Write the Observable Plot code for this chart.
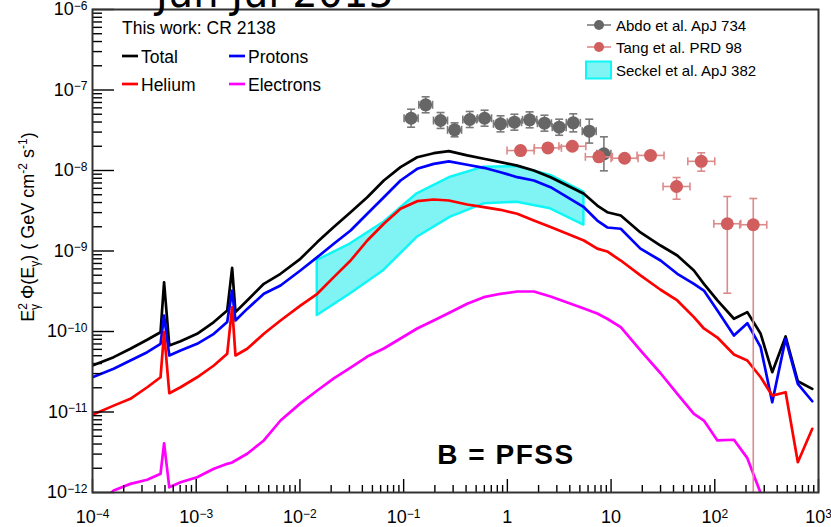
<!DOCTYPE html>
<html>
<head>
<meta charset="utf-8">
<script src="https://cdn.jsdelivr.net/npm/d3@7"></script>
<script src="https://cdn.jsdelivr.net/npm/@observablehq/plot@0.6"></script>
<style>
  html, body { margin: 0; padding: 0; background: #fff; }
  #wrap { position: relative; width: 831px; height: 527px; overflow: hidden; }
</style>
</head>
<body>
<div id="wrap"></div>
<script>
// ---------- model curves (E in GeV, E^2 Phi in GeV cm^-2 s^-1) ----------
const energy = [1e-4, 1.6e-4, 2.32e-4, 3.37e-4, 4.53e-4, 4.9e-4, 5.5e-4, 7.06e-4, 1.02e-3, 1.48e-3,
  1.99e-3, 2.22e-3, 2.39e-3, 3.10e-3, 4.49e-3, 6.50e-3, 1.01e-2, 1.47e-2, 2.12e-2, 3.08e-2,
  4.46e-2, 6.44e-2, 9.33e-2, 0.135, 0.195, 0.273, 0.410, 0.593, 0.859, 1.245,
  1.80, 2.61, 3.78, 5.47, 7.36, 9.18, 12.4, 19.2, 30.0, 43.5,
  62.9, 78.5, 106, 153, 206, 277, 358, 482, 632, 871];
const total = [3.78e-11, 4.80e-11, 6.10e-11, 7.89e-11, 9.80e-11, 4.09e-10, 6.70e-11, 7.58e-11, 9.36e-11, 1.31e-10,
  1.82e-10, 6.18e-10, 1.74e-10, 2.43e-10, 3.91e-10, 5.21e-10, 8.0e-10, 1.29e-9, 1.98e-9, 3.03e-9,
  4.66e-9, 7.51e-9, 1.10e-8, 1.46e-8, 1.64e-8, 1.74e-8, 1.54e-8, 1.40e-8, 1.27e-8, 1.15e-8,
  1.0e-8, 8.26e-9, 6.51e-9, 5.14e-9, 3.67e-9, 3.03e-9, 2.76e-9, 1.70e-9, 1.17e-9, 8.79e-10,
  5.73e-10, 3.91e-10, 2.43e-10, 1.44e-10, 1.74e-10, 9.36e-11, 3.12e-11, 8.67e-11, 2.41e-11, 1.94e-11];
const protons = [2.70e-11, 3.44e-11, 4.36e-11, 5.53e-11, 7.03e-11, 1.58e-10, 5.04e-11, 5.81e-11, 7.03e-11, 9.36e-11,
  1.31e-10, 3.23e-10, 1.37e-10, 1.91e-10, 2.94e-10, 3.73e-10, 5.73e-10, 8.38e-10, 1.23e-9, 1.80e-9,
  2.90e-9, 4.66e-9, 7.51e-9, 1.05e-8, 1.21e-8, 1.30e-8, 1.18e-8, 1.08e-8, 9.53e-9, 8.26e-9,
  7.51e-9, 6.21e-9, 4.66e-9, 3.50e-9, 2.39e-9, 1.96e-9, 1.89e-9, 1.07e-9, 7.62e-10, 5.21e-10,
  3.91e-10, 3.23e-10, 1.82e-10, 8.91e-11, 1.27e-10, 6.38e-11, 1.32e-11, 8.11e-11, 2.24e-11, 1.36e-11];
const helium = [9.23e-12, 1.20e-11, 1.46e-11, 2.03e-11, 2.70e-11, 9.80e-11, 1.71e-11, 2.03e-11, 2.70e-11, 3.78e-11,
  5.28e-11, 2.00e-10, 5.04e-11, 6.10e-11, 9.36e-11, 1.37e-10, 2.10e-10, 2.94e-10, 4.73e-10, 7.62e-10,
  1.35e-9, 2.18e-9, 3.34e-9, 4.16e-9, 4.36e-9, 4.24e-9, 3.78e-9, 3.50e-9, 3.25e-9, 2.90e-9,
  2.39e-9, 1.98e-9, 1.64e-9, 1.35e-9, 1.07e-9, 9.86e-10, 7.62e-10, 4.97e-10, 3.30e-10, 2.43e-10,
  1.51e-10, 1.09e-10, 8.41e-11, 5.18e-11, 4.36e-11, 2.70e-11, 1.60e-11, 1.76e-11, 2.38e-12, 6.18e-12];
const electrons = [6e-13, 1.06e-12, 1.28e-12, 1.44e-12, 1.71e-12, 4.09e-12, 1.16e-12, 1.34e-12, 1.55e-12, 1.97e-12,
  2.27e-12, 2.36e-12, 2.50e-12, 3.03e-12, 4.43e-12, 7.84e-12, 1.28e-11, 1.85e-11, 2.61e-11, 3.57e-11,
  4.89e-11, 6.15e-11, 8.18e-11, 1.09e-10, 1.37e-10, 1.70e-10, 2.21e-10, 2.67e-10, 2.94e-10, 3.14e-10,
  3.14e-10, 2.72e-10, 2.29e-10, 1.93e-10, 1.67e-10, 1.44e-10, 1.13e-10, 5.81e-11, 3.03e-11, 1.68e-11,
  9.5e-12, 7.84e-12, 4.43e-12, 4.52e-12, 2.67e-12, 9.8e-13, 4e-13, null, null, null];

// ---------- Seckel et al. ApJ 382 band ----------
const seckelE  = [0.0147, 0.0308, 0.0644, 0.135, 0.283, 0.593, 1.245, 2.61, 5.47];
const seckelLo = [1.58e-10, 2.94e-10, 5.73e-10, 1.48e-9, 2.63e-9, 3.85e-9, 4.04e-9, 3.34e-9, 2.10e-9];
const seckelHi = [7.62e-10, 1.23e-9, 2.28e-9, 5.14e-9, 8.26e-9, 1.10e-8, 1.12e-8, 8.67e-9, 5.37e-9];

// ---------- Abdo et al. ApJ 734 ----------
const abdoE   = [0.118, 0.163, 0.227, 0.310, 0.434, 0.603, 0.859, 1.17, 1.64, 2.28, 3.16, 4.32, 6.16, 8.53];
const abdoELo = [0.101, 0.140, 0.194, 0.265, 0.372, 0.516, 0.735, 1.00, 1.40, 1.95, 2.71, 3.70, 5.27, 7.30];
const abdoEHi = [0.138, 0.190, 0.265, 0.362, 0.507, 0.704, 1.003, 1.37, 1.92, 2.66, 3.69, 5.05, 7.19, 9.96];
const abdoF   = [4.46e-8, 6.55e-8, 4.18e-8, 3.20e-8, 4.30e-8, 4.46e-8, 3.80e-8, 3.98e-8, 4.26e-8, 3.87e-8, 3.45e-8, 3.91e-8, 3.08e-8, 1.61e-8];
const abdoFLo = [3.45e-8, 5.21e-8, 3.33e-8, 2.62e-8, 3.42e-8, 3.55e-8, 3.02e-8, 3.17e-8, 3.39e-8, 3.08e-8, 2.74e-8, 3.02e-8, 2.19e-8, 0.99e-8];
const abdoFHi = [5.77e-8, 8.23e-8, 5.25e-8, 3.91e-8, 5.41e-8, 5.61e-8, 4.78e-8, 5.00e-8, 5.35e-8, 4.86e-8, 4.34e-8, 5.06e-8, 4.34e-8, 2.62e-8];

// ---------- Tang et al. PRD 98 ----------
const tangE   = [1.34, 2.46, 4.23, 7.62, 13.5, 24.0, 42.8, 74.1, 132, 235];
const tangELo = [0.993, 1.82, 3.14, 5.65, 10.0, 17.8, 31.7, 54.9, 97.9, 174];
const tangEHi = [1.81, 3.32, 5.71, 10.3, 18.2, 32.4, 57.7, 100, 178, 317];
const tangF   = [1.77e-8, 1.91e-8, 2.00e-8, 1.48e-8, 1.42e-8, 1.54e-8, 6.33e-9, 1.30e-8, 2.18e-9, 2.12e-9];
const tangFLo = [1.62e-8, 1.75e-8, 1.83e-8, 1.36e-8, 1.30e-8, 1.41e-8, 4.40e-9, 9.8e-9, 2.99e-10, 1e-13];
const tangFHi = [1.93e-8, 2.08e-8, 2.18e-8, 1.61e-8, 1.55e-8, 1.68e-8, 8.18e-9, 1.66e-8, 4.75e-9, 4.49e-9];

// ---------- axes ----------
const xMajor = [1e-4, 1e-3, 1e-2, 1e-1, 1, 10, 100, 1000];
const yMajor = [1e-12, 1e-11, 1e-10, 1e-9, 1e-8, 1e-7, 1e-6];
const xDomain = [1e-4, 1e3];
const yDomain = [1e-12, 1e-6];

const title = "Jun Jul 2015";
const yTitle = "E²γ Φ(Eγ) ( GeV cm⁻² s⁻¹)";

// ---------- build tables ----------
const curve = (vals) => energy.map((e, i) => ({e, v: vals[i]}));
const band = seckelE.map((e, i) => ({e, lo: seckelLo[i], hi: seckelHi[i]}));
const abdo = abdoE.map((e, i) => ({e, elo: abdoELo[i], ehi: abdoEHi[i], f: abdoF[i], flo: abdoFLo[i], fhi: abdoFHi[i]}));
const tang = tangE.map((e, i) => ({e, elo: tangELo[i], ehi: tangEHi[i], f: tangF[i], flo: tangFLo[i], fhi: tangFHi[i]}));

const isDecade = v => Math.abs(Math.log10(v) - Math.round(Math.log10(v))) < 1e-6;
const xMinor = d3.scaleLog().domain(xDomain).ticks().filter(v => !isDecade(v));
const yMinor = d3.scaleLog().domain(yDomain).ticks().filter(v => !isDecade(v));

const fmt = d => {
  const k = Math.round(Math.log10(d));
  if (k === 0) return "1";
  if (k === 1) return "10";
  return "10^" + (k < 0 ? "−" + (-k) : String(k));
};

const capH = {draw(ctx, size) { const w = Math.sqrt(size / Math.PI); ctx.moveTo(-w, 0); ctx.lineTo(w, 0); }};
const capV = {draw(ctx, size) { const w = Math.sqrt(size / Math.PI); ctx.moveTo(0, -w); ctx.lineTo(0, w); }};

const W = 831, H = 527, mL = 92, mR = 13, mT = 9, mB = 35;
const frameW = W - mL - mR, frameH = H - mT - mB;

const grayC = "#666666", grayE = "#7a7a7a";
const redC = "#d05e5e", redE = "#dc8a8a";
const cyanFill = "#80f4f4", cyanLine = "#10f6f6";

function errMarks(data, lineColor, dotColor) {
  return [
    Plot.link(data, {x1: "elo", x2: "ehi", y1: "f", y2: "f", stroke: lineColor, strokeWidth: 1.6, clip: true}),
    Plot.link(data, {x1: "e", x2: "e", y1: "flo", y2: "fhi", stroke: lineColor, strokeWidth: 1.6, clip: true}),
    Plot.dot(data, {x: "e", y: "flo", symbol: capH, r: 4, fill: "none", stroke: lineColor, strokeWidth: 1.6, clip: true}),
    Plot.dot(data, {x: "e", y: "fhi", symbol: capH, r: 4, fill: "none", stroke: lineColor, strokeWidth: 1.6, clip: true}),
    Plot.dot(data, {x: "elo", y: "f", symbol: capV, r: 4, fill: "none", stroke: lineColor, strokeWidth: 1.6, clip: true}),
    Plot.dot(data, {x: "ehi", y: "f", symbol: capV, r: 4, fill: "none", stroke: lineColor, strokeWidth: 1.6, clip: true}),
    Plot.dot(data, {x: "e", y: "f", r: 6.5, fill: dotColor, stroke: "none", clip: true})
  ];
}

const plot = Plot.plot({
  width: W, height: H,
  marginLeft: mL, marginRight: mR, marginTop: mT, marginBottom: mB,
  x: {type: "log", domain: xDomain},
  y: {type: "log", domain: yDomain},
  style: {fontFamily: "'Liberation Sans', Arial, Helvetica, sans-serif", background: "white", color: "black"},
  marks: [
    Plot.areaY(band, {x: "e", y1: "lo", y2: "hi", fill: cyanFill, stroke: cyanLine, strokeWidth: 2.5, clip: true}),
    Plot.line(curve(total), {x: "e", y: "v", stroke: "#000000", strokeWidth: 2.7, clip: true}),
    Plot.line(curve(protons), {x: "e", y: "v", stroke: "#0000ff", strokeWidth: 2.7, clip: true}),
    Plot.line(curve(helium), {x: "e", y: "v", stroke: "#ff0000", strokeWidth: 2.7, clip: true}),
    Plot.line(curve(electrons), {x: "e", y: "v", stroke: "#ff00ff", strokeWidth: 2.7, clip: true}),
    ...errMarks(abdo, grayE, grayC),
    ...errMarks(tang, redE, redC),
    // inward ticks
    Plot.ruleX(xMajor, {x: d => d, insetTop: frameH - 13, stroke: "#000", strokeWidth: 1.4}),
    Plot.ruleX(xMinor, {x: d => d, insetTop: frameH - 7, stroke: "#000", strokeWidth: 1.4}),
    Plot.ruleY(yMajor, {y: d => d, insetRight: frameW - 22, stroke: "#000", strokeWidth: 1.4}),
    Plot.ruleY(yMinor, {y: d => d, insetRight: frameW - 10, stroke: "#000", strokeWidth: 1.4}),
    Plot.frame({stroke: "#333", strokeWidth: 2}),
    Plot.axisX({ticks: xMajor, tickSize: 0, tickPadding: 18, tickFormat: fmt, fontSize: 18, label: null}),
    Plot.axisY({ticks: yMajor, tickSize: 0, tickPadding: 5, tickFormat: fmt, fontSize: 18, label: null})
  ]
});

document.getElementById("wrap").appendChild(plot);
const svg = d3.select(plot);

// superscript exponents in tick labels
svg.selectAll('g[aria-label$="tick label"] text').each(function () {
  const s = this.textContent;
  if (!s.includes("^")) return;
  const [b, e] = s.split("^");
  const t = d3.select(this);
  t.text(b);
  t.append("tspan").attr("dy", "-0.45em").attr("font-size", "12px").text(e);
});

const font = "'Liberation Sans', Arial, Helvetica, sans-serif";

// title (partially outside the page at the top, as in the reference)
svg.append("text").attr("x", 156).attr("y", 7).attr("text-anchor", "start")
  .attr("font-family", "'DejaVu Sans', sans-serif").attr("font-size", 40).attr("fill", "#000")
  .text(title);

// y-axis title with sub/superscripts
const yt = svg.append("text").attr("transform", "translate(34,227) rotate(-90)")
  .attr("text-anchor", "middle").attr("font-family", font).attr("font-size", 18).attr("fill", "#000");
yt.append("tspan").text("E");
yt.append("tspan").attr("font-size", 12).attr("dy", -7).text("2");
yt.append("tspan").attr("font-size", 12).attr("dx", -7).attr("dy", 12).text("γ");
yt.append("tspan").attr("dy", -5).text(" Φ(E");
yt.append("tspan").attr("font-size", 12).attr("dy", 5).text("γ");
yt.append("tspan").attr("dy", -5).text(") ( GeV cm");
yt.append("tspan").attr("font-size", 12).attr("dy", -7).text("-2");
yt.append("tspan").attr("dy", 7).text(" s");
yt.append("tspan").attr("font-size", 12).attr("dy", -7).text("-1");
yt.append("tspan").attr("dy", 7).text(")");
yt.append("title").text(yTitle);

// left legend
const lg = svg.append("g").attr("font-family", font).attr("font-size", 17.5).attr("fill", "#000").attr("text-anchor", "start");
lg.append("text").attr("x", 122).attr("y", 34).text("This work: CR 2138");
const leftItems = [
  {label: "Total", color: "#000000", x: 122, y: 56},
  {label: "Protons", color: "#0000ff", x: 229, y: 56},
  {label: "Helium", color: "#ff0000", x: 122, y: 84},
  {label: "Electrons", color: "#ff00ff", x: 229, y: 84}
];
for (const it of leftItems) {
  lg.append("line").attr("x1", it.x).attr("x2", it.x + 16).attr("y1", it.y).attr("y2", it.y)
    .attr("stroke", it.color).attr("stroke-width", 2.7);
  lg.append("text").attr("x", it.x + 19).attr("y", it.y + 6.5).text(it.label);
}

// right legend
const rg = svg.append("g").attr("font-family", font).attr("font-size", 15).attr("fill", "#000").attr("text-anchor", "start");
const rightItems = [
  {label: "Abdo et al. ApJ 734", line: grayE, dot: grayC, y: 25},
  {label: "Tang et al. PRD 98", line: redE, dot: redC, y: 47}
];
for (const it of rightItems) {
  rg.append("line").attr("x1", 587).attr("x2", 611).attr("y1", it.y).attr("y2", it.y)
    .attr("stroke", it.line).attr("stroke-width", 1.6);
  rg.append("circle").attr("cx", 599).attr("cy", it.y).attr("r", 5).attr("fill", it.dot);
  rg.append("text").attr("x", 616).attr("y", it.y + 5.5).text(it.label);
}
rg.append("rect").attr("x", 586).attr("y", 61.5).attr("width", 25).attr("height", 17)
  .attr("fill", cyanFill).attr("stroke", cyanLine).attr("stroke-width", 2);
rg.append("text").attr("x", 616).attr("y", 75.5).text("Seckel et al. ApJ 382");

// annotation
svg.append("text").attr("x", 506).attr("y", 464).attr("text-anchor", "middle")
  .attr("font-family", font).attr("font-size", 28).attr("font-weight", "bold")
  .attr("letter-spacing", "1.5px").attr("fill", "#000").text("B = PFSS");
</script>
</body>
</html>
